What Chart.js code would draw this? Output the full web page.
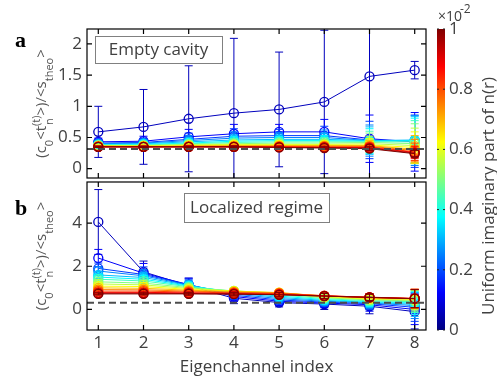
<!DOCTYPE html>
<html>
<head>
<meta charset="utf-8">
<script src="https://cdn.jsdelivr.net/npm/chart.js@4.4.0/dist/chart.umd.min.js"></script>
<style>
  html, body { margin: 0; padding: 0; background: #fff; }
  #wrap { position: relative; width: 497px; height: 382px; }
  #wrap canvas { position: absolute; left: 0; top: 0; }
</style>
</head>
<body>
<div id="wrap">
  <canvas id="panelA" width="497" height="382"></canvas>
  <canvas id="panelB" width="497" height="382"></canvas>
  <canvas id="cbar" width="497" height="382"></canvas>
</div>
<script>
// x axis: eigenchannel index
const eigIndex = [1, 2, 3, 4, 5, 6, 7, 8];
// uniform imaginary part of n(r) for each curve, in units of 1e-2
const imagParts = [0.06, 0.12, 0.18, 0.25, 0.31, 0.37, 0.44, 0.50, 0.56, 0.62, 0.69, 0.75, 0.81, 0.87, 0.94, 1.00];

// panel a: empty cavity
const emptyMean = [
  [0.59, 0.67, 0.80, 0.89, 0.95, 1.07, 1.48, 1.58],
  [0.43, 0.44, 0.51, 0.56, 0.59, 0.59, 0.48, 0.43],
  [0.41, 0.42, 0.47, 0.52, 0.53, 0.53, 0.46, 0.44],
  [0.40, 0.41, 0.45, 0.49, 0.50, 0.50, 0.45, 0.45],
  [0.39, 0.40, 0.43, 0.46, 0.47, 0.47, 0.45, 0.46],
  [0.38, 0.39, 0.41, 0.44, 0.45, 0.45, 0.44, 0.45],
  [0.38, 0.38, 0.40, 0.42, 0.43, 0.43, 0.43, 0.43],
  [0.37, 0.37, 0.39, 0.40, 0.41, 0.41, 0.42, 0.40],
  [0.37, 0.37, 0.38, 0.39, 0.39, 0.39, 0.40, 0.37],
  [0.36, 0.36, 0.37, 0.38, 0.38, 0.38, 0.38, 0.34],
  [0.36, 0.36, 0.36, 0.37, 0.37, 0.37, 0.37, 0.31],
  [0.36, 0.35, 0.36, 0.36, 0.36, 0.36, 0.36, 0.29],
  [0.35, 0.35, 0.35, 0.35, 0.35, 0.35, 0.35, 0.27],
  [0.35, 0.35, 0.35, 0.35, 0.35, 0.34, 0.34, 0.26],
  [0.35, 0.35, 0.35, 0.35, 0.34, 0.34, 0.33, 0.25],
  [0.35, 0.35, 0.35, 0.35, 0.34, 0.33, 0.32, 0.24]
];
const emptyErr = [
  [0.41, 0.60, 0.85, 1.20, 0.92, 1.15, 1.70, 0.14],
  [0.06, 0.08, 0.12, 0.15, 0.12, 0.20, 0.38, 0.47],
  [0.05, 0.06, 0.10, 0.12, 0.10, 0.15, 0.30, 0.42],
  [0.04, 0.05, 0.08, 0.10, 0.08, 0.12, 0.25, 0.40],
  [0.03, 0.04, 0.06, 0.08, 0.07, 0.10, 0.22, 0.38],
  [0.03, 0.04, 0.05, 0.07, 0.06, 0.08, 0.20, 0.36],
  [0.02, 0.03, 0.04, 0.06, 0.05, 0.07, 0.17, 0.34],
  [0.02, 0.03, 0.04, 0.05, 0.05, 0.06, 0.15, 0.32],
  [0.02, 0.02, 0.03, 0.04, 0.04, 0.05, 0.12, 0.28],
  [0.02, 0.02, 0.03, 0.04, 0.04, 0.05, 0.10, 0.25],
  [0.01, 0.02, 0.02, 0.03, 0.03, 0.04, 0.08, 0.22],
  [0.01, 0.02, 0.02, 0.03, 0.03, 0.03, 0.06, 0.18],
  [0.01, 0.01, 0.02, 0.02, 0.02, 0.03, 0.05, 0.14],
  [0.01, 0.01, 0.02, 0.02, 0.02, 0.02, 0.04, 0.10],
  [0.01, 0.01, 0.01, 0.02, 0.02, 0.02, 0.03, 0.07],
  [0.01, 0.01, 0.01, 0.01, 0.01, 0.02, 0.03, 0.05]
];

// panel b: localized regime
const locMean = [
  [4.05, 1.74, 1.10, 0.52, 0.32, 0.25, 0.15, -0.10],
  [2.38, 1.68, 1.15, 0.60, 0.38, 0.30, 0.22, 0.00],
  [1.90, 1.62, 1.15, 0.66, 0.44, 0.34, 0.27, 0.10],
  [1.78, 1.56, 1.13, 0.72, 0.50, 0.38, 0.30, 0.18],
  [1.60, 1.48, 1.11, 0.77, 0.56, 0.42, 0.33, 0.24],
  [1.50, 1.40, 1.08, 0.81, 0.62, 0.46, 0.36, 0.30],
  [1.40, 1.32, 1.05, 0.84, 0.68, 0.50, 0.40, 0.36],
  [1.28, 1.22, 1.01, 0.86, 0.73, 0.54, 0.44, 0.40],
  [1.18, 1.14, 0.97, 0.86, 0.76, 0.57, 0.47, 0.44],
  [1.08, 1.06, 0.93, 0.85, 0.78, 0.60, 0.50, 0.47],
  [1.00, 0.98, 0.89, 0.83, 0.78, 0.62, 0.53, 0.49],
  [0.92, 0.91, 0.85, 0.80, 0.76, 0.63, 0.55, 0.50],
  [0.85, 0.85, 0.81, 0.77, 0.74, 0.64, 0.56, 0.51],
  [0.79, 0.79, 0.77, 0.74, 0.71, 0.63, 0.57, 0.51],
  [0.75, 0.75, 0.74, 0.72, 0.69, 0.62, 0.56, 0.50],
  [0.72, 0.72, 0.72, 0.71, 0.68, 0.62, 0.56, 0.50]
];
const locErr = [
  [1.50, 0.50, 0.35, 0.25, 0.20, 0.25, 0.35, 0.80],
  [0.40, 0.45, 0.30, 0.22, 0.18, 0.22, 0.30, 0.70],
  [0.25, 0.35, 0.25, 0.20, 0.17, 0.20, 0.28, 0.65],
  [0.20, 0.28, 0.22, 0.18, 0.16, 0.19, 0.26, 0.60],
  [0.16, 0.22, 0.20, 0.17, 0.15, 0.18, 0.24, 0.56],
  [0.13, 0.18, 0.18, 0.16, 0.14, 0.17, 0.22, 0.52],
  [0.11, 0.15, 0.16, 0.15, 0.14, 0.16, 0.21, 0.50],
  [0.10, 0.13, 0.14, 0.14, 0.13, 0.15, 0.20, 0.48],
  [0.09, 0.11, 0.12, 0.13, 0.13, 0.15, 0.19, 0.46],
  [0.08, 0.10, 0.11, 0.12, 0.12, 0.14, 0.18, 0.45],
  [0.07, 0.09, 0.10, 0.11, 0.12, 0.14, 0.17, 0.44],
  [0.07, 0.08, 0.09, 0.10, 0.11, 0.13, 0.17, 0.43],
  [0.06, 0.07, 0.08, 0.10, 0.11, 0.13, 0.16, 0.43],
  [0.06, 0.06, 0.07, 0.09, 0.10, 0.12, 0.16, 0.42],
  [0.05, 0.06, 0.07, 0.09, 0.10, 0.12, 0.15, 0.42],
  [0.05, 0.05, 0.06, 0.08, 0.10, 0.12, 0.15, 0.42]
];

const theoLevel = 0.315;          // dashed reference line
const yTicksA = [0, 0.5, 1, 1.5, 2];
const yTicksB = [0, 2, 4];
const cbarTicks = [0, 0.2, 0.4, 0.6, 0.8, 1];

const xMin = 0.75, xMax = 8.25;
const txt = '#404040';
Chart.defaults.font.family = "'Open Sans', sans-serif";

// MATLAB jet colormap, t in [0,1]
const clamp = v => Math.max(0, Math.min(1, v));
const jet = t => 'rgb(' + [
  Math.min(4 * t - 1.5, -4 * t + 4.5),
  Math.min(4 * t - 0.5, -4 * t + 3.5),
  Math.min(4 * t + 0.5, -4 * t + 2.5)
].map(v => Math.round(clamp(v) * 255)).join(',') + ')';

const makeSets = (means, errs) => {
  const sets = means.map((row, i) => ({
    data: row.map((v, k) => ({ x: eigIndex[k], y: v })),
    errors: errs[i],
    borderColor: jet(imagParts[i]),
    pointBorderColor: jet(imagParts[i]),
    pointBackgroundColor: 'rgba(0,0,0,0)',
    backgroundColor: 'rgba(0,0,0,0)',
    borderWidth: 1,
    pointRadius: 4.5,
    pointBorderWidth: 1.3,
    tension: 0,
    order: means.length - i + 1
  }));
  sets.push({
    data: [{ x: xMin, y: theoLevel }, { x: xMax, y: theoLevel }],
    borderColor: '#4d4d4d', borderWidth: 2, borderDash: [7, 4],
    pointRadius: 0, order: 0
  });
  return sets;
};

// error bars, drawn just before each dataset so layering follows the curves
const errorBars = {
  id: 'errorBars',
  beforeDatasetDraw(chart, args) {
    const ds = chart.data.datasets[args.index];
    if (!ds.errors) return;
    const { ctx, chartArea: a, scales: { x, y } } = chart;
    ctx.save();
    ctx.beginPath();
    ctx.rect(a.left, a.top, a.right - a.left, a.bottom - a.top);
    ctx.clip();
    ctx.strokeStyle = ds.borderColor;
    ctx.lineWidth = 1;
    ctx.beginPath();
    ds.data.forEach((p, k) => {
      const e = ds.errors[k];
      const px = x.getPixelForValue(p.x);
      const y1 = y.getPixelForValue(p.y - e), y2 = y.getPixelForValue(p.y + e);
      ctx.moveTo(px, y1); ctx.lineTo(px, y2);
      ctx.moveTo(px - 4, y1); ctx.lineTo(px + 4, y1);
      ctx.moveTo(px - 4, y2); ctx.lineTo(px + 4, y2);
    });
    ctx.stroke();
    ctx.restore();
  }
};

// rotated y title with sub/superscripts
const yTitleParts = [
  { t: '(c', k: 'm' }, { t: '0', k: 'sub' }, { t: '<t', k: 'm' },
  { t: '(t)', k: 'sup', under: 'n' }, { t: '>)/<s', k: 'm' },
  { t: 'theo', k: 'sub' }, { t: '>', k: 'm' }
];
const drawYTitle = (ctx, bx, cy) => {
  const mf = '15px "Open Sans"', sf = '11px "Open Sans"';
  ctx.save();
  const widths = yTitleParts.map(p => {
    ctx.font = p.k === 'm' ? mf : sf;
    let w = ctx.measureText(p.t).width;
    if (p.under) w = Math.max(w, ctx.measureText(p.under).width);
    return w;
  });
  const total = widths.reduce((s, w) => s + w, 0);
  ctx.translate(bx, cy);
  ctx.rotate(-Math.PI / 2);
  ctx.fillStyle = '#555';
  ctx.textBaseline = 'alphabetic';
  let u = -total / 2;
  yTitleParts.forEach((p, i) => {
    if (p.k === 'm') { ctx.font = mf; ctx.fillText(p.t, u, 0); }
    else if (p.k === 'sub') { ctx.font = sf; ctx.fillText(p.t, u, 7); }
    else { ctx.font = sf; ctx.fillText(p.t, u, -6); if (p.under) ctx.fillText(p.under, u + 1, 7); }
    u += widths[i];
  });
  ctx.restore();
};

const deco = {
  id: 'deco',
  afterDraw(chart, args, o) {
    const { ctx, chartArea: a, scales: { x, y } } = chart;
    ctx.save();
    ctx.strokeStyle = '#000';
    ctx.lineWidth = 1.2;
    ctx.strokeRect(a.left, a.top, a.right - a.left, a.bottom - a.top);
    ctx.beginPath();
    y.ticks.forEach(t => {
      const p = y.getPixelForValue(t.value);
      ctx.moveTo(a.left, p); ctx.lineTo(a.left + 5, p);
      ctx.moveTo(a.right, p); ctx.lineTo(a.right - 5, p);
    });
    x.ticks.forEach(t => {
      const p = x.getPixelForValue(t.value);
      ctx.moveTo(p, a.bottom); ctx.lineTo(p, a.bottom - 5);
      ctx.moveTo(p, a.top); ctx.lineTo(p, a.top + 5);
    });
    ctx.stroke();

    // panel letter
    ctx.fillStyle = '#000';
    ctx.font = 'bold 22px "Liberation Serif"';
    ctx.textAlign = 'left';
    ctx.textBaseline = 'alphabetic';
    ctx.fillText(o.letter, 15, o.letterY);

    // annotation box
    const [bx, by, bw, bh] = o.box;
    ctx.fillStyle = '#fff';
    ctx.fillRect(bx, by, bw, bh);
    ctx.strokeStyle = '#808080';
    ctx.lineWidth = 1;
    ctx.strokeRect(bx + 0.5, by + 0.5, bw, bh);
    ctx.fillStyle = txt;
    ctx.font = '17px "Open Sans"';
    ctx.textAlign = 'center';
    ctx.textBaseline = 'middle';
    ctx.fillText(o.note, bx + bw / 2, by + bh / 2 + 1);
    ctx.restore();

    drawYTitle(ctx, 46, (a.top + a.bottom) / 2);
  }
};

const panelOptions = (yMin, yMax, yTicks, showX, pad, decoOpts) => ({
  responsive: false, animation: false, events: [],
  layout: { padding: pad },
  plugins: { legend: { display: false }, tooltip: { enabled: false }, deco: decoOpts },
  scales: {
    x: {
      type: 'linear', min: xMin, max: xMax,
      grid: { display: false, drawTicks: false }, border: { display: false },
      afterBuildTicks: s => { s.ticks = eigIndex.map(v => ({ value: v })); },
      afterFit: s => { s.height = showX ? 52 : 0; },
      ticks: { display: showX, color: txt, font: { size: 17 }, padding: 3, maxRotation: 0, callback: v => String(v) },
      title: { display: showX, text: 'Eigenchannel index', color: txt, font: { size: 17 }, padding: { top: 0, bottom: 5 } }
    },
    y: {
      min: yMin, max: yMax,
      grid: { display: false, drawTicks: false }, border: { display: false },
      afterBuildTicks: s => { s.ticks = yTicks.map(v => ({ value: v })); },
      afterFit: s => { s.width = 87; },
      ticks: { color: txt, font: { size: 17 }, padding: 5, callback: v => String(v) }
    }
  }
});

new Chart(document.getElementById('panelA'), {
  type: 'line',
  data: { datasets: makeSets(emptyMean, emptyErr) },
  options: panelOptions(-0.15, 2.24, yTicksA, false, { left: 0, right: 71, top: 29, bottom: 204 },
    { letter: 'a', letterY: 47, note: 'Empty cavity', box: [95, 36, 127, 27] }),
  plugins: [errorBars, deco]
});

new Chart(document.getElementById('panelB'), {
  type: 'line',
  data: { datasets: makeSets(locMean, locErr) },
  options: panelOptions(-0.95, 5.9, yTicksB, true, { left: 0, right: 71, top: 182, bottom: 0 },
    { letter: 'b', letterY: 215, note: 'Localized regime', box: [184, 193, 145, 29] }),
  plugins: [errorBars, deco]
});

// colorbar: gradient bar, small ticks, exponent and rotated label
const cbarDeco = {
  id: 'cbarDeco',
  afterDatasetsDraw(chart) {
    const { ctx, chartArea: a, scales: { y } } = chart;
    ctx.save();
    ctx.strokeStyle = '#222';
    ctx.lineWidth = 1;
    ctx.beginPath();
    y.ticks.forEach(t => {
      const p = y.getPixelForValue(t.value);
      ctx.moveTo(a.right, p); ctx.lineTo(a.right - 2, p);
      ctx.moveTo(a.left, p); ctx.lineTo(a.left + 2, p);
    });
    ctx.stroke();
    ctx.restore();

    ctx.save();
    ctx.fillStyle = txt;
    ctx.textBaseline = 'alphabetic';
    ctx.textAlign = 'left';
    ctx.font = '14px "Open Sans", sans-serif';
    ctx.fillText('\u00d710', 438, 21);
    ctx.font = '12px "Open Sans", sans-serif';
    ctx.fillText('-2', 460, 13);
    ctx.restore();

    ctx.save();
    ctx.fillStyle = txt;
    ctx.translate(494, 196);
    ctx.rotate(-Math.PI / 2);
    ctx.textAlign = 'center';
    ctx.textBaseline = 'alphabetic';
    ctx.font = '17px "Open Sans", sans-serif';
    ctx.fillText('Uniform imaginary part of n(r)', 0, 0);
    ctx.restore();
  }
};

new Chart(document.getElementById('cbar'), {
  type: 'bar',
  data: {
    labels: ['n'],
    datasets: [{
      data: [[cbarTicks[0], cbarTicks[cbarTicks.length - 1]]],
      barPercentage: 1, categoryPercentage: 1, borderWidth: 0,
      backgroundColor: c => {
        const { ctx, chartArea } = c.chart;
        if (!chartArea) return null;
        const g = ctx.createLinearGradient(0, chartArea.bottom, 0, chartArea.top);
        for (let s = 0; s <= 8; s++) g.addColorStop(s / 8, jet(s / 8));
        return g;
      }
    }]
  },
  options: {
    responsive: false, animation: false, events: [],
    layout: { padding: { left: 437, right: 0, top: 29, bottom: 52 } },
    plugins: { legend: { display: false }, tooltip: { enabled: false } },
    scales: {
      x: { display: false },
      y: {
        position: 'right', min: 0, max: 1,
        grid: { display: false, drawTicks: false }, border: { display: false },
        afterBuildTicks: s => { s.ticks = cbarTicks.map(v => ({ value: v })); },
        afterFit: s => { s.width = 52; },
        ticks: { color: txt, font: { size: 17 }, padding: 4, callback: v => String(v) }
      }
    }
  },
  plugins: [cbarDeco]
});
</script>
</body>
</html>
